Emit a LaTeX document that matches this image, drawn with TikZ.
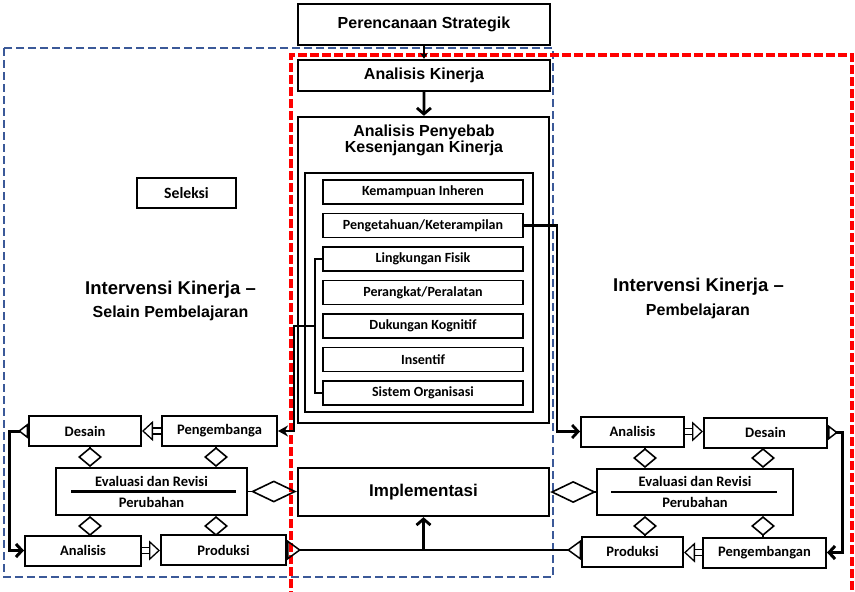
\documentclass[tikz,border=0pt]{standalone}
\usepackage{fontspec}
\usepackage{tikz}
\usetikzlibrary{arrows.meta}
\usetikzlibrary{positioning}
\newfontfamily\arialf{Liberation Sans}[Ligatures=TeX]
\newfontfamily\calibrif{Carlito}[Ligatures=TeX]
\definecolor{biru}{RGB}{59,89,152}
\definecolor{merah}{RGB}{255,0,0}

\begin{document}
\begin{tikzpicture}[x=1pt, y=-1pt, node distance=33.5pt, on grid,
utama/.style={draw, line width=2.4pt, fill=white, inner sep=0pt,
font=\arialf\bfseries\fontsize{16}{16.5}\selectfont},
faktor/.style={draw, line width=1.3pt, fill=white, inner sep=0pt, minimum width=200pt,
minimum height=24pt, font=\calibrif\bfseries\fontsize{14}{15}\selectfont},
tahap/.style={draw, line width=2pt, fill=white, inner sep=0pt, minimum height=30pt,
font=\calibrif\bfseries\fontsize{14.5}{15}\selectfont},
evaluasi/.style={draw, line width=2pt, fill=white, minimum width=191pt, minimum height=47pt},
tulisan/.style={font=\calibrif\bfseries\fontsize{14.5}{15}\selectfont},
judul/.style={font=\arialf\bfseries\fontsize{18.5}{20}\selectfont},
subjudul/.style={font=\arialf\bfseries\fontsize{16}{16.5}\selectfont},
hubung/.style={line width=2pt},
tebal/.style={line width=2.8pt},
panah/.style={double, double distance=4.5pt, line width=1.3pt,
-{Triangle[open, length=11pt, width=20pt, line width=1.3pt]}},
wajik/.style={line width=1.6pt, {Diamond[open, length=20pt, width=24pt]}-},
wajikbesar/.style={line width=1.6pt, -{Diamond[open, length=46pt, width=22pt]}},
ekor/.style={line width=3pt, {Triangle[open, reversed, length=10pt, width=15pt, line width=1.5pt]}-{Straight Barb[length=6pt, width=13pt]}},
alas/.style={line width=2.8pt, {Triangle[open, reversed, length=14pt, width=20pt, line width=1.5pt]}-{Triangle[open, reversed, length=14pt, width=20pt, line width=1.5pt]}}
]
\useasboundingbox (0,0) rectangle (855,592);
% batas putus-putus
\draw[biru, line width=1.5pt, dash pattern=on 8pt off 4pt] (4,48) rectangle (553,577);
\draw[merah, line width=3.5pt, dash pattern=on 9pt off 3pt] (291,600) -- (291,55) -- (852,55) -- (852,600);

% kolom tengah
\node[utama, minimum width=252pt, minimum height=41pt] (rencana) at (424,24.5) {Perencanaan Strategik};
\node[utama, minimum width=252pt, minimum height=31pt] (kinerja) at (424,75.5) {Analisis Kinerja};
\node[utama, minimum width=251pt, minimum height=306pt] (penyebab) at (423.5,270) {};
\node[subjudul, align=center] (judul1) at (424,140.5) {Analisis Penyebab\\Kesenjangan Kinerja};
\node[utama, minimum width=228pt, minimum height=239pt] (wadah) at (419,292.5) {};
\node[faktor] (f1) at (423,192) {Kemampuan Inheren};
\node[faktor, below=of f1] (f2) {Pengetahuan/Keterampilan};
\node[faktor, below=of f2] (f3) {Lingkungan Fisik};
\node[faktor, below=of f3] (f4) {Perangkat/Peralatan};
\node[faktor, below=of f4] (f5) {Dukungan Kognitif};
\node[faktor, below=of f5] (f6) {Insentif};
\node[faktor, below=of f6] (f7) {Sistem Organisasi};
\node[utama, minimum width=251pt, minimum height=48pt,
font=\arialf\bfseries\fontsize{17}{18}\selectfont] (implementasi) at (423.5,492) {Implementasi};

% sisi kiri
\node[utama, minimum width=99pt, minimum height=30pt,
font=\calibrif\bfseries\fontsize{15.7}{16}\selectfont] (seleksi) at (186.5,193) {Seleksi};
\node[judul] (intA) at (170.5,290) {Intervensi Kinerja –};
\node[subjudul] (jenisA) at (170.5,313) {Selain Pembelajaran};
\node[tahap, minimum width=112pt] (desA) at (85,431) {Desain};
\node[tahap, minimum width=115pt] (pengA) at (219.5,431) {Pengembanga};
\node[evaluasi] (evalA) at (151.5,491.5) {};
\node[tulisan] (evalA1) at ([yshift=10.5pt]evalA.center) {Evaluasi dan Revisi};
\node[tulisan] (evalA2) at ([yshift=-10.5pt]evalA.center) {Perubahan};
\node[tahap, minimum width=116pt] (anaA) at (83,550.5) {Analisis};
\node[tahap, minimum width=125pt] (prodA) at (223.5,550) {Produksi};

% sisi kanan
\node[judul] (intB) at (698.5,287) {Intervensi Kinerja –};
\node[subjudul] (jenisB) at (698,311) {Pembelajaran};
\node[tahap, minimum width=103pt] (anaB) at (632.5,431.5) {Analisis};
\node[tahap, minimum width=123pt] (desB) at (765.5,432.5) {Desain};
\node[evaluasi, minimum width=196pt, minimum height=46pt] (evalB) at (695,492) {};
\node[tulisan] (evalB1) at ([yshift=11pt]evalB.center) {Evaluasi dan Revisi};
\node[tulisan] (evalB2) at ([yshift=-10pt]evalB.center) {Perubahan};
\node[tahap, minimum width=101pt] (prodB) at (632.5,551.5) {Produksi};
\node[tahap, minimum width=123pt] (pengB) at (764.5,552.5) {Pengembangan};

% garis pemisah evaluasi
\draw[line width=2.5pt] ([xshift=16pt]evalA.west) -- ([xshift=-12pt]evalA.east);
\draw[line width=2.5pt] ([xshift=15pt]evalB.west) -- ([xshift=-17pt]evalB.east);

% panah kolom tengah
\draw[line width=1.2pt, -{Stealth[length=6pt, width=8pt]}] (rencana) -- (kinerja);
\draw[tebal, -{Straight Barb[length=6pt, width=14pt]}] (kinerja) -- (penyebab);
\draw[hubung] (f3.west) -- ++(-7,0) coordinate (b1) -- (b1 |- f7.west) -- (f7.west);
\coordinate (belokA) at (294,0);
\draw[hubung, -{Stealth[length=10pt, width=11pt]}] (b1 |- f5.west) -- (belokA |- f5.west)
  -- (belokA |- pengA.east) -- (pengA.east);
\coordinate (belokB) at (557,0);
\draw[tebal, -{Straight Barb[length=6pt, width=13pt]}] (f2.east) -- (belokB |- f2.east)
  -- (belokB |- anaB.west) -- (anaB.west);

% hubungan kiri
\draw[panah] (pengA.west) -- (desA.east);
\draw[panah] (anaA.east) -- (anaA.east -| prodA.west);
\draw[wajik] ([xshift=-61.5pt]evalA.north) -- ([xshift=-61.5pt]evalA.north |- desA.south);
\draw[wajik] ([xshift=64.5pt]evalA.north) -- ([xshift=64.5pt]evalA.north |- pengA.south);
\draw[wajik] ([xshift=-61.5pt]evalA.south) -- ([xshift=-61.5pt]evalA.south |- anaA.north);
\draw[wajik] ([xshift=64.5pt]evalA.south) -- ([xshift=64.5pt]evalA.south |- prodA.north);
\draw[wajikbesar] (evalA.east) -- (evalA.east -| implementasi.west);
\draw[ekor] (desA.west) -- ++(-19,0) |- (anaA.west);

% hubungan kanan
\draw[panah] (anaB.east) -- (anaB.east -| desB.west);
\draw[panah] (pengB.west) -- (pengB.west -| prodB.east);
\draw[wajik] ([xshift=-50pt]evalB.north) -- ([xshift=-50pt]evalB.north |- anaB.south);
\draw[wajik] ([xshift=68pt]evalB.north) -- ([xshift=68pt]evalB.north |- desB.south);
\draw[wajik] ([xshift=-50pt]evalB.south) -- ([xshift=-50pt]evalB.south |- prodB.north);
\draw[wajik] ([xshift=68pt]evalB.south) -- ([xshift=68pt]evalB.south |- pengB.north);
\draw[wajikbesar] (evalB.west) -- (evalB.west -| implementasi.east);
\draw[ekor] (desB.east) -- ++(14,0) |- (pengB.east);

% garis bawah ke implementasi
\draw[alas] (prodA.east) -- (prodA.east -| prodB.west);
\draw[tebal, -{Straight Barb[length=6pt, width=14pt]}] (prodA.east -| implementasi.south) -- (implementasi.south);

\end{tikzpicture}
\end{document}
